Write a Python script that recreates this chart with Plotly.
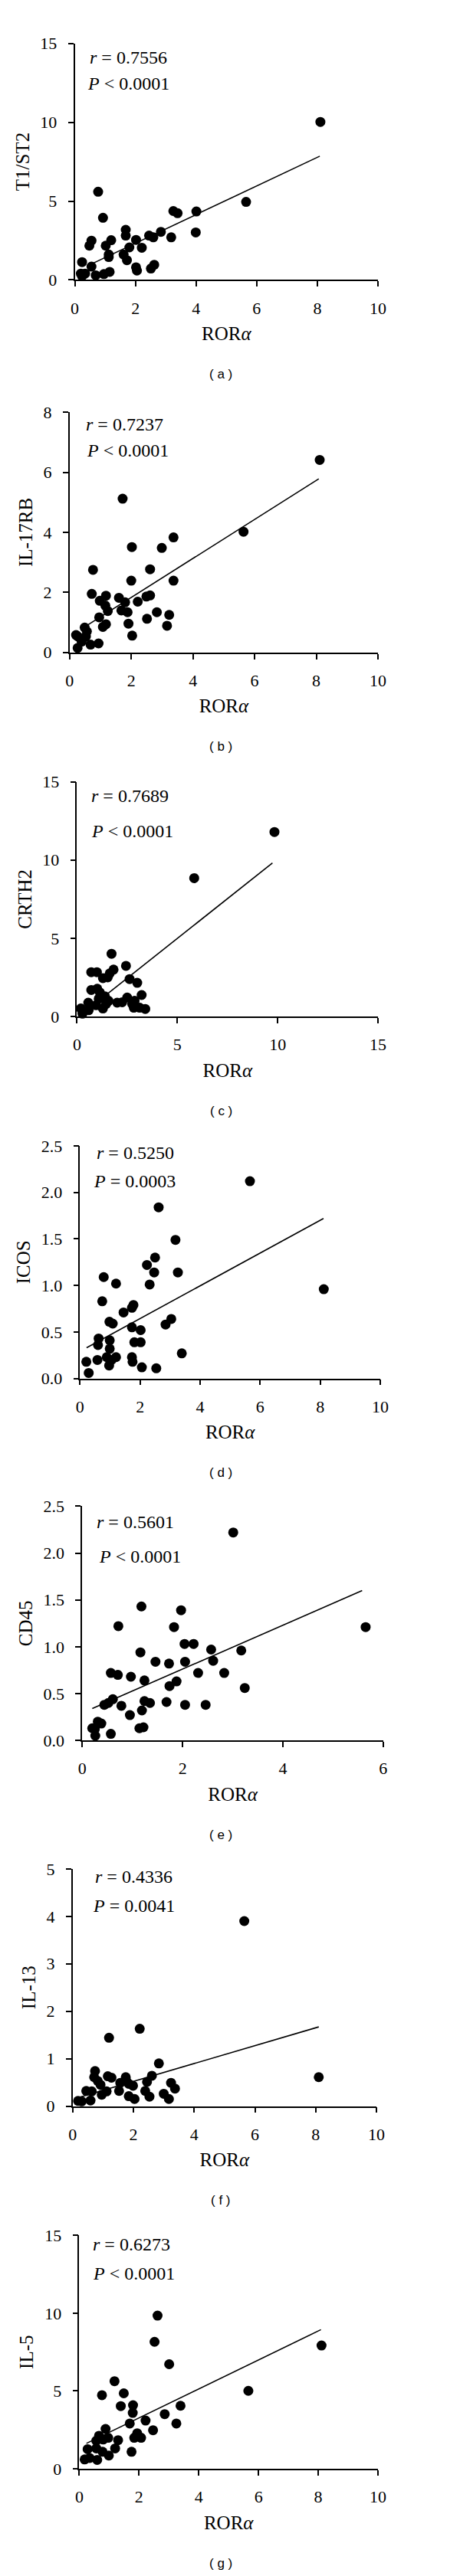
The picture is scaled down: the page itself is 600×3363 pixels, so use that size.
import plotly.graph_objects as go

W, H = 600, 3363

# ---------------- data ----------------
# (a) T1/ST2 vs RORα
rora_a = [8.10, 5.65, 4.01, 3.99, 3.25, 3.39, 3.18, 2.84, 2.45, 2.59, 2.21, 2.02, 1.80, 1.68, 1.68, 1.61,
          1.72, 2.02, 2.05, 2.51, 2.62, 1.20, 1.02, 1.12, 1.12, 1.15, 0.96, 0.93, 0.77, 0.55, 0.48, 0.55,
          0.69, 0.24, 0.20, 0.34, 0.24]
t1st2_a = [10.02, 4.95, 4.34, 3.01, 4.37, 4.23, 2.70, 3.05, 2.81, 2.70, 2.04, 2.54, 2.06, 3.18, 2.81, 1.61,
           1.25, 0.80, 0.59, 0.72, 0.96, 2.52, 2.17, 1.61, 1.45, 0.51, 0.37, 3.94, 5.59, 2.49, 2.17, 0.84,
           0.29, 1.13, 0.40, 0.40, 0.24]
fit_x_a = [0.55, 8.08]
fit_y_a = [1.01, 7.85]

# (b) IL-17RB vs RORα
rora_b = [8.11, 5.64, 1.72, 3.37, 2.02, 2.99, 0.76, 2.61, 2.00, 3.37, 0.72, 1.18, 0.98, 1.60, 1.80, 2.21,
          2.49, 2.61, 1.16, 1.24, 1.68, 1.88, 2.83, 3.23, 0.96, 2.51, 1.18, 1.08, 1.91, 3.16, 2.03, 0.49,
          0.56, 0.53, 0.21, 0.27, 0.68, 0.94, 0.26, 0.39]
il17rb_b = [6.41, 4.02, 5.12, 3.83, 3.51, 3.48, 2.75, 2.77, 2.39, 2.39, 1.95, 1.89, 1.72, 1.82, 1.67, 1.69,
            1.86, 1.90, 1.56, 1.38, 1.40, 1.34, 1.34, 1.25, 1.17, 1.12, 0.94, 0.85, 0.96, 0.89, 0.56, 0.83,
            0.70, 0.53, 0.58, 0.53, 0.26, 0.30, 0.15, 0.36]
fit_x_b = [0.52, 8.08]
fit_y_b = [0.87, 5.78]

# (c) CRTH2 vs RORα
rora_c = [9.84, 5.84, 1.72, 2.44, 0.71, 0.99, 1.29, 1.53, 1.82, 1.63, 2.62, 3.00, 0.71, 1.01, 1.14, 1.39,
          3.22, 0.56, 0.95, 1.29, 1.45, 1.57, 2.00, 2.25, 2.50, 2.75, 2.87, 2.83, 3.12, 3.40, 0.19, 0.27,
          0.58, 1.08]
crth2_c = [11.79, 8.84, 4.01, 3.24, 2.84, 2.84, 2.46, 2.51, 3.00, 2.76, 2.40, 2.16, 1.70, 1.78, 1.54, 1.30,
           1.38, 0.89, 0.73, 0.52, 0.81, 1.01, 0.89, 0.92, 1.22, 0.81, 1.01, 0.57, 0.57, 0.49, 0.52, 0.19,
           0.41, 1.14]
fit_x_c = [0.40, 9.74]
fit_y_c = [0.32, 9.81]

# (d) ICOS vs RORα
rora_d = [5.66, 2.62, 3.18, 2.50, 2.23, 2.47, 3.26, 2.32, 0.79, 1.20, 8.12, 0.74, 1.78, 1.73, 1.45, 3.04,
          2.85, 0.98, 1.09, 1.73, 2.02, 0.62, 0.60, 0.99, 1.81, 2.02, 0.99, 3.39, 0.58, 0.89, 1.20, 1.73,
          1.75, 0.21, 0.97, 2.06, 2.54, 0.29, 1.05]
icos_d = [2.12, 1.84, 1.49, 1.30, 1.22, 1.14, 1.14, 1.01, 1.09, 1.02, 0.96, 0.83, 0.79, 0.76, 0.71, 0.64,
          0.58, 0.61, 0.59, 0.55, 0.52, 0.43, 0.36, 0.41, 0.39, 0.39, 0.32, 0.27, 0.20, 0.23, 0.23, 0.23,
          0.18, 0.18, 0.14, 0.12, 0.11, 0.06, 0.20]
fit_x_d = [0.22, 8.11]
fit_y_d = [0.33, 1.72]

# (e) CD45 vs RORα
rora_e = [3.01, 1.18, 1.97, 0.72, 1.83, 5.65, 2.04, 2.22, 1.16, 2.57, 3.17, 1.46, 1.73, 2.05, 2.61, 0.57,
          0.71, 0.97, 1.24, 2.31, 2.83, 1.88, 1.74, 3.24, 0.61, 0.52, 0.44, 0.78, 1.24, 1.35, 1.68, 2.05,
          2.46, 1.19, 0.95, 0.31, 0.38, 0.20, 0.25, 1.14, 1.22, 0.57, 0.26]
cd45_e = [2.22, 1.43, 1.39, 1.22, 1.21, 1.21, 1.03, 1.03, 0.94, 0.97, 0.96, 0.84, 0.82, 0.84, 0.85, 0.72,
          0.70, 0.68, 0.64, 0.72, 0.72, 0.63, 0.58, 0.56, 0.44, 0.40, 0.38, 0.37, 0.42, 0.40, 0.41, 0.38,
          0.38, 0.32, 0.27, 0.20, 0.18, 0.13, 0.12, 0.13, 0.14, 0.07, 0.05]
fit_x_e = [0.20, 5.58]
fit_y_e = [0.34, 1.60]

# (f) IL-13 vs RORα
rora_f = [5.65, 2.21, 1.20, 8.10, 2.84, 0.74, 0.71, 1.16, 1.28, 1.75, 2.61, 2.45, 1.57, 1.77, 0.83, 1.85,
          1.99, 3.24, 3.37, 0.92, 0.45, 0.63, 1.12, 0.96, 1.53, 2.39, 3.00, 1.85, 2.53, 2.04, 3.17, 0.18,
          0.30, 0.59]
il13_f = [3.90, 1.63, 1.44, 0.61, 0.90, 0.74, 0.61, 0.63, 0.60, 0.61, 0.64, 0.51, 0.49, 0.53, 0.53, 0.47,
          0.43, 0.49, 0.37, 0.45, 0.32, 0.31, 0.31, 0.24, 0.32, 0.32, 0.26, 0.21, 0.20, 0.15, 0.15, 0.11,
          0.10, 0.12]
fit_x_f = [0.25, 8.10]
fit_y_f = [0.19, 1.67]

# (g) IL-5 vs RORα
rora_g = [2.62, 2.52, 8.11, 3.01, 1.18, 0.76, 1.49, 5.66, 1.39, 1.80, 3.39, 1.79, 2.86, 2.22, 1.69, 3.25,
          2.47, 0.88, 0.66, 0.97, 1.30, 1.84, 1.94, 2.07, 0.57, 0.80, 0.57, 1.20, 0.28, 0.78, 0.99, 1.75,
          0.18, 0.35, 0.60]
il5_g = [9.84, 8.16, 7.92, 6.72, 5.63, 4.73, 4.85, 5.01, 4.03, 4.08, 4.05, 3.59, 3.51, 3.10, 2.91, 2.91,
         2.48, 2.56, 2.12, 1.99, 1.84, 1.99, 2.28, 1.99, 1.80, 1.88, 1.31, 1.31, 1.26, 1.09, 0.85, 1.09,
         0.60, 0.69, 0.57]
fit_x_g = [0.24, 8.09]
fit_y_g = [1.63, 8.94]

y_titles = ["T1/ST2", "IL-17RB", "CRTH2", "ICOS", "CD45", "IL-13", "IL-5"]
r_texts = ["0.7556", "0.7237", "0.7689", "0.5250", "0.5601", "0.4336", "0.6273"]
p_texts = ["< 0.0001", "< 0.0001", "< 0.0001", "= 0.0003", "< 0.0001", "= 0.0041", "< 0.0001"]
panel_letters = ["a", "b", "c", "d", "e", "f", "g"]
x_ticks = [[0, 2, 4, 6, 8, 10], [0, 2, 4, 6, 8, 10], [0, 5, 10, 15], [0, 2, 4, 6, 8, 10],
           [0, 2, 4, 6], [0, 2, 4, 6, 8, 10], [0, 2, 4, 6, 8, 10]]
y_ticks = [[0, 5, 10, 15], [0, 2, 4, 6, 8], [0, 5, 10, 15], [0, 0.5, 1.0, 1.5, 2.0, 2.5],
           [0, 0.5, 1.0, 1.5, 2.0, 2.5], [0, 1, 2, 3, 4, 5], [0, 5, 10, 15]]

xs = [rora_a, rora_b, rora_c, rora_d, rora_e, rora_f, rora_g]
ys = [t1st2_a, il17rb_b, crth2_c, icos_d, cd45_e, il13_f, il5_g]
fxs = [fit_x_a, fit_x_b, fit_x_c, fit_x_d, fit_x_e, fit_x_f, fit_x_g]
fys = [fit_y_a, fit_y_b, fit_y_c, fit_y_d, fit_y_e, fit_y_f, fit_y_g]

# ---------------- layout (pixel boxes of each plot area) ----------------
# (left, right, top, bottom) of the axes in page pixels
boxes = [(86, 493, 37, 348), (79, 493, 522, 838), (89, 493, 1008, 1317), (93, 496, 1487, 1793),
         (96, 500, 1961, 2269), (83, 491, 2438, 2750), (92, 493, 2920, 3227)]
# left x and centre y of r / P texts
r_pos = [(104, 55), (99, 538), (106, 1027), (113, 1496), (113, 1982), (111, 2448), (108, 2932)]
p_pos = [(101, 90), (100, 572), (106, 1073), (109, 1533), (116, 2027), (108, 2486), (108, 2970)]

SERIF = "Liberation Serif"
fig = go.Figure()
layout = dict(width=W, height=H, margin=dict(l=0, r=0, t=0, b=0), paper_bgcolor="white",
              plot_bgcolor="white", showlegend=False, annotations=[])

for i in range(7):
    n = i + 1
    xr = "x" if n == 1 else f"x{n}"
    yr = "y" if n == 1 else f"y{n}"
    xk = "xaxis" if n == 1 else f"xaxis{n}"
    yk = "yaxis" if n == 1 else f"yaxis{n}"
    l, r, t, b = boxes[i]
    fig.add_trace(go.Scatter(x=fxs[i], y=fys[i], mode="lines", xaxis=xr, yaxis=yr,
                             line=dict(color="black", width=1.6), hoverinfo="skip"))
    fig.add_trace(go.Scatter(x=xs[i], y=ys[i], mode="markers", xaxis=xr, yaxis=yr, cliponaxis=False,
                             marker=dict(color="black", size=13, line=dict(width=0))))
    common = dict(showline=True, linecolor="black", linewidth=1.6, ticks="outside", ticklen=7,
                  tickwidth=1.6, tickcolor="black", showgrid=False, zeroline=False,
                  tickfont=dict(family=SERIF, size=22, color="black"))
    layout[xk] = dict(domain=[l / W, r / W], range=[x_ticks[i][0], x_ticks[i][-1]], anchor=yr,
                      tickvals=x_ticks[i], ticklabelstandoff=9,
                      title=dict(text="ROR<i>α</i>", font=dict(family=SERIF, size=25, color="black"),
                                 standoff=13), **common)
    yfmt = ".1f" if isinstance(y_ticks[i][1], float) else "d"
    layout[yk] = dict(domain=[1 - b / H, 1 - t / H], range=[y_ticks[i][0], y_ticks[i][-1]], anchor=xr,
                      tickvals=y_ticks[i], tickformat=yfmt, ticklabelstandoff=10,
                      title=dict(text=y_titles[i], font=dict(family=SERIF, size=25, color="black"),
                                 standoff=7), **common)
    layout["annotations"].append(dict(text=f"<i>r</i> = {r_texts[i]}", xref="paper", yref="paper",
                                      x=r_pos[i][0] / W, y=1 - r_pos[i][1] / H, xanchor="left",
                                      yanchor="middle", showarrow=False,
                                      font=dict(family=SERIF, size=24, color="black")))
    layout["annotations"].append(dict(text=f"<i>P</i> {p_texts[i]}", xref="paper", yref="paper",
                                      x=p_pos[i][0] / W, y=1 - p_pos[i][1] / H, xanchor="left",
                                      yanchor="middle", showarrow=False,
                                      font=dict(family=SERIF, size=24, color="black")))
    layout["annotations"].append(dict(text=f"( {panel_letters[i]} )", xref="paper", yref="paper",
                                      x=282 / W, y=1 - (b + 124) / H, xanchor="center",
                                      yanchor="middle", showarrow=False,
                                      font=dict(family="Liberation Sans", size=17, color="black")))

fig.update_layout(**layout)
fig.write_html("out.html")
